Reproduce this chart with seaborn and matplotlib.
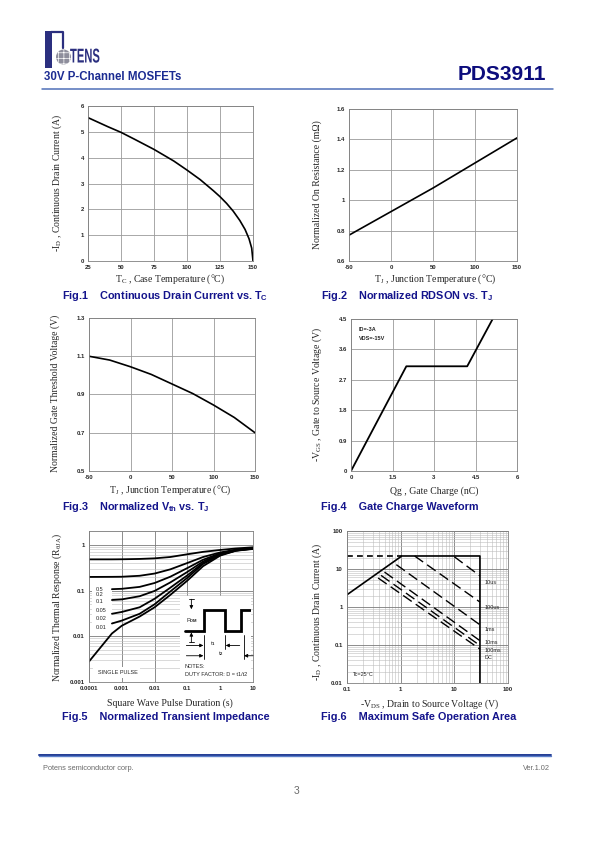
import numpy as np
import pandas as pd
import matplotlib
matplotlib.use("Agg")
import matplotlib.pyplot as plt
import seaborn as sns
from matplotlib.patches import Rectangle, Circle, PathPatch
from matplotlib.ticker import LogLocator, NullFormatter
from matplotlib.textpath import TextPath
from matplotlib.font_manager import FontProperties
from matplotlib.transforms import Affine2D

# ---------------- data ----------------
fig1_tc = [25, 40, 50, 60, 75, 90, 100, 110, 120, 125, 130, 135, 140, 144, 147, 149, 150]
fig1_id = [5.55, 5.2, 4.98, 4.72, 4.32, 3.87, 3.52, 3.15, 2.72, 2.49, 2.23, 1.93, 1.57, 1.22, 0.86, 0.5, 0.0]

fig2_tj = [-50, 0, 50, 100, 150]
fig2_r = [0.77, 0.925, 1.08, 1.245, 1.41]

fig3_tj = [-50, -25, 0, 25, 50, 75, 100, 125, 150]
fig3_v = [1.10, 1.08, 1.045, 1.005, 0.955, 0.905, 0.845, 0.78, 0.70]

fig4_qg = [0, 2.0, 4.2, 5.12]
fig4_vgs = [0, 3.1, 3.1, 4.5]

fig5_t_full = [1e-4, 5e-4, 1e-3, 3.5e-3, 0.01, 0.03, 0.1, 0.3, 1, 3, 10]
fig5_t_part = [5e-4, 1e-3, 3.5e-3, 0.01, 0.03, 0.1, 0.3, 1, 3, 10]
fig5_d05 = [0.48, 0.48, 0.482, 0.49, 0.505, 0.54, 0.62, 0.70, 0.77, 0.83, 0.88]
fig5_d02 = [0.198, 0.199, 0.200, 0.21, 0.235, 0.29, 0.40, 0.54, 0.68, 0.78, 0.86]
fig5_d01 = [0.107, 0.109, 0.12, 0.146, 0.20, 0.31, 0.47, 0.65, 0.77, 0.85]
fig5_d005 = [0.062, 0.064, 0.075, 0.098, 0.15, 0.255, 0.43, 0.63, 0.76, 0.84]
fig5_d002 = [0.031, 0.034, 0.043, 0.066, 0.115, 0.215, 0.40, 0.61, 0.75, 0.83]
fig5_d001 = [0.019, 0.022, 0.031, 0.050, 0.095, 0.19, 0.38, 0.60, 0.745, 0.82]
fig5_single = [0.0028, 0.0115, 0.017, 0.027, 0.043, 0.08, 0.165, 0.34, 0.58, 0.74, 0.81]
fig5_duty_labels = ["0.5", "0.2", "0.1", "0.05", "0.02", "0.01"]
fig5_label_y = [0.105, 0.083, 0.057, 0.036, 0.024, 0.0157]

fig6_limit_v = [0.1, 1.05, 30, 30]
fig6_limit_i = [2.1, 22, 22, 0.01]
fig6_ext_v = [0.1, 1.05]
fig6_ext_i = [22, 22]
fig6_pulse_names = ["10us", "100us", "1ms", "10ms", "100ms", "DC"]
fig6_pulse_v = [[10, 30], [1.82, 30], [0.83, 30], [0.5, 30], [0.43, 30], [0.38, 30]]
fig6_pulse_i = [[21, 6.6], [22, 1.35], [13, 0.34], [8.3, 0.13], [6.8, 0.097], [5.8, 0.078]]
fig6_label_y = [4.5, 0.98, 0.26, 0.118, 0.072, 0.046]

fig1_xticks = [25, 50, 75, 100, 125, 150]
fig1_yticks = [0, 1, 2, 3, 4, 5, 6]
fig2_xticks = [-50, 0, 50, 100, 150]
fig2_yticks = [0.6, 0.8, 1.0, 1.2, 1.4, 1.6]
fig3_xticks = [-50, 0, 50, 100, 150]
fig3_yticks = [0.5, 0.7, 0.9, 1.1, 1.3]
fig4_xticks = [0, 1.5, 3, 4.5, 6]
fig4_yticks = [0, 0.9, 1.8, 2.7, 3.6, 4.5]
fig5_xticks = [1e-4, 1e-3, 1e-2, 1e-1, 1, 10]
fig5_yticks = [1e-3, 1e-2, 1e-1, 1]
fig6_xticks = [0.1, 1, 10, 100]
fig6_yticks = [0.01, 0.1, 1, 10, 100]

# ---------------- style ----------------
sns.set_theme(style="white")
plt.rcParams["font.family"] = ["Liberation Sans", "DejaVu Sans"]
plt.rcParams["mathtext.fontset"] = "custom"
plt.rcParams["mathtext.rm"] = "Liberation Serif"
plt.rcParams["mathtext.it"] = "Liberation Serif:italic"
plt.rcParams["mathtext.bf"] = "Liberation Sans:bold"
plt.rcParams["mathtext.sf"] = "Liberation Sans"
plt.rcParams["hatch.linewidth"] = 0.5

W, H = 595, 842
fig = plt.figure(figsize=(5.95, 8.42), dpi=100)
fig.patch.set_facecolor("white")

bg = fig.add_axes([0, 0, 1, 1])
bg.set_xlim(0, W)
bg.set_ylim(H, 0)
bg.axis("off")

NAVY = "#14148c"
GRID = "#9a9a9a"
TICKFS = 4.3
LABFS = 7.0
SERIF = ["Liberation Serif", "DejaVu Sans"]
CAPFS = 7.8
CAPX_L, CAPX_R = 62, 321


def box(l, t, r, b):
    return [l / W, 1 - b / H, (r - l) / W, (b - t) / H]


def fmt(v):
    return "%g" % v


def style_axes(ax, xt, yt, log=False):
    ax.set_axisbelow(True)
    for s in ax.spines.values():
        s.set_color("#808080")
        s.set_linewidth(0.6)
    ax.set_xticks(xt)
    ax.set_xticklabels([fmt(v) for v in xt], fontsize=TICKFS, fontweight="bold")
    ax.set_yticks(yt)
    ax.set_yticklabels([fmt(v) for v in yt], fontsize=TICKFS, fontweight="bold")
    ax.tick_params(which="both", length=0, pad=3)
    ax.set_xlabel("")
    ax.set_ylabel("")
    if log:
        ax.xaxis.set_minor_locator(LogLocator(base=10, subs=np.arange(2, 10)))
        ax.yaxis.set_minor_locator(LogLocator(base=10, subs=np.arange(2, 10)))
        ax.xaxis.set_minor_formatter(NullFormatter())
        ax.yaxis.set_minor_formatter(NullFormatter())
        ax.grid(True, which="minor", color="#bdbdbd", lw=0.4)
        ax.grid(True, which="major", color="#7a7a7a", lw=0.6)
    else:
        ax.grid(True, which="major", color=GRID, lw=0.6)


def labels(xl, xpos, yl, ypos, cap, cpos):
    bg.text(xpos[0], xpos[1], xl, fontsize=LABFS, family=SERIF, ha="center", va="center")
    bg.text(ypos[0], ypos[1], yl, fontsize=LABFS, family=SERIF, ha="center", va="center", rotation=90)
    bg.text(cpos[0], cpos[1], cap, fontsize=CAPFS, fontweight="bold", color=NAVY, ha="left", va="center")


# ---------------- header / footer ----------------
LOGO = "#2b2f7f"
bg.add_patch(Rectangle((45, 31), 6.5, 37, color=LOGO, lw=0))
bg.plot([51, 63, 63], [32.2, 32.2, 48], color=LOGO, lw=1.6)
bg.add_patch(Circle((63.5, 57), 7.5, facecolor="#8e8e9c", edgecolor="white", hatch="+++", lw=0))
tp = TextPath((0, 0), "TENS", size=20, prop=FontProperties(family="Liberation Sans", weight="bold"))
tp = Affine2D().scale(0.56, -1.0).translate(70, 62.5).transform_path(tp)
bg.add_patch(PathPatch(tp, facecolor=LOGO, edgecolor="none"))
bg.text(44, 80, "30V P-Channel MOSFETs", fontsize=8.3, fontweight="bold", color="#1c2c92",
        ha="left", va="baseline")
bg.text(546, 80, "PDS3911", fontsize=15, fontweight="bold", color="#0c0c7c",
        ha="right", va="baseline")
bg.plot([42, 553], [89, 89], color="#5070b8", lw=1.1)

bg.plot([39, 551], [754.5, 754.5], color="#1f3a93", lw=1.4)
bg.plot([39, 551], [756, 756], color="#5b7fc9", lw=1.0)
bg.text(43, 769, "Potens semiconductor corp.", fontsize=5.3, color="#6a6a6a", ha="left", va="center")
bg.text(550, 769, "Ver.1.02", fontsize=5.3, color="#6a6a6a", ha="right", va="center")
bg.text(297, 791, "3", fontsize=7.5, color="#6a6a6a", ha="center", va="center")

# ---------------- Fig.1 ----------------
ax1 = fig.add_axes(box(88, 106, 253, 261))
df1 = pd.DataFrame({"Tc": fig1_tc, "Id": fig1_id})
sns.lineplot(data=df1, x="Tc", y="Id", ax=ax1, color="black", lw=1.2, sort=False, estimator=None)
ax1.set_xlim(25, 150)
ax1.set_ylim(0, 6)
style_axes(ax1, fig1_xticks, fig1_yticks)
labels(r"T$_{\mathrm{C}}$ , Case Temperature (°C)", (170, 279),
       r"-I$_{\mathrm{D}}$ , Continuous Drain Current (A)", (57, 183),
       r"Fig.1    Continuous Drain Current vs. T$_{\mathbf{C}}$", (CAPX_L, 296))

# ---------------- Fig.2 ----------------
ax2 = fig.add_axes(box(349, 109, 517, 261))
df2 = pd.DataFrame({"Tj": fig2_tj, "R": fig2_r})
sns.lineplot(data=df2, x="Tj", y="R", ax=ax2, color="black", lw=1.2, sort=False, estimator=None)
ax2.set_xlim(-50, 150)
ax2.set_ylim(0.6, 1.6)
style_axes(ax2, fig2_xticks, fig2_yticks)
labels(r"T$_{\mathrm{J}}$ , Junction Temperature (°C)", (435, 279),
       r"Normalized On Resistance (mΩ)", (317, 185),
       r"Fig.2    Normalized RDSON vs. T$_{\mathbf{J}}$", (CAPX_R, 296))

# ---------------- Fig.3 ----------------
ax3 = fig.add_axes(box(89, 318, 255, 471))
df3 = pd.DataFrame({"Tj": fig3_tj, "V": fig3_v})
sns.lineplot(data=df3, x="Tj", y="V", ax=ax3, color="black", lw=1.2, sort=False, estimator=None)
ax3.set_xlim(-50, 150)
ax3.set_ylim(0.5, 1.3)
style_axes(ax3, fig3_xticks, fig3_yticks)
labels(r"T$_{\mathrm{J}}$ , Junction Temperature (°C)", (170, 490),
       r"Normalized Gate Threshold Voltage (V)", (55, 393),
       r"Fig.3    Normalized V$_{\mathbf{th}}$ vs. T$_{\mathbf{J}}$", (CAPX_L, 507))

# ---------------- Fig.4 ----------------
ax4 = fig.add_axes(box(351, 319, 517, 471))
df4 = pd.DataFrame({"Qg": fig4_qg, "Vgs": fig4_vgs})
sns.lineplot(data=df4, x="Qg", y="Vgs", ax=ax4, color="black", lw=1.3, sort=False, estimator=None)
ax4.set_xlim(0, 6)
ax4.set_ylim(0, 4.5)
style_axes(ax4, fig4_xticks, fig4_yticks)
ax4.text(0.27, 4.18, "ID=-3A", fontsize=4.0, fontweight="bold", va="center")
ax4.text(0.27, 3.93, "VDS=-15V", fontsize=4.0, fontweight="bold", va="center")
labels(r"Qg , Gate Charge (nC)", (434, 491),
       r"-V$_{\mathrm{GS}}$ , Gate to Source Voltage (V)", (317, 394),
       r"Fig.4    Gate Charge Waveform", (CAPX_R, 507))

# ---------------- Fig.5 ----------------
ax5 = fig.add_axes(box(89, 531, 253, 682))
ax5.set_xscale("log")
ax5.set_yscale("log")
curves5 = [
    (fig5_t_full, fig5_d05, "0.5"),
    (fig5_t_full, fig5_d02, "0.2"),
    (fig5_t_part, fig5_d01, "0.1"),
    (fig5_t_part, fig5_d005, "0.05"),
    (fig5_t_part, fig5_d002, "0.02"),
    (fig5_t_part, fig5_d001, "0.01"),
    (fig5_t_full, fig5_single, "single"),
]
df5 = pd.concat([pd.DataFrame({"t": t, "r": r, "D": name}) for t, r, name in curves5], ignore_index=True)
sns.lineplot(data=df5, x="t", y="r", hue="D", palette=["black"] * len(curves5), ax=ax5,
             lw=1.3, sort=False, estimator=None, legend=False)
ax5.set_xlim(1e-4, 10)
ax5.set_ylim(1e-3, 2)
style_axes(ax5, fig5_xticks, fig5_yticks, log=True)
ax5.add_patch(Rectangle((0.02, 0.33), 0.12, 0.31, transform=ax5.transAxes,
                        facecolor="white", edgecolor="none", zorder=1.5))
for lab, yv in zip(fig5_duty_labels, fig5_label_y):
    ax5.text(1.6e-4, yv, lab, fontsize=4.0, va="center", ha="left", zorder=3)
ax5.add_patch(Rectangle((0.024, 0.026), 0.29, 0.075, transform=ax5.transAxes,
                        facecolor="white", edgecolor="none", zorder=1.5))
ax5.text(0.055, 0.063, "SINGLE PULSE", transform=ax5.transAxes, fontsize=4.0, va="center", zorder=3)

ins = ax5.inset_axes([0.553, 0.0, 0.433, 0.57])
ins.set_facecolor("white")
ins.set_xlim(420, 633)
ins.set_ylim(487, 228)
ins.set_xticks([])
ins.set_yticks([])
for s in ins.spines.values():
    s.set_visible(False)
ins.plot([435, 492, 492, 557, 557, 605, 605, 630], [335, 335, 270, 270, 335, 335, 270, 270],
         color="black", lw=2.0, solid_joinstyle="miter")
arrow = dict(arrowstyle="-|>", lw=0.6, color="black", mutation_scale=5, shrinkA=0, shrinkB=0)
ins.plot([449, 462], [238, 238], color="black", lw=0.6)
ins.annotate("", xy=(455, 268), xytext=(455, 238), arrowprops=arrow)
ins.annotate("", xy=(455, 338), xytext=(455, 368), arrowprops=arrow)
ins.plot([449, 462], [368, 368], color="black", lw=0.6)
ins.text(440, 303, r"P$_{\mathbf{DM}}$", fontsize=4.2, va="center")
ins.plot([492, 492], [345, 418], color="black", lw=0.6)
ins.plot([557, 557], [345, 388], color="black", lw=0.6)
ins.plot([612, 612], [345, 418], color="black", lw=0.6)
ins.annotate("", xy=(491, 377), xytext=(440, 377), arrowprops=arrow)
ins.annotate("", xy=(558, 377), xytext=(600, 377), arrowprops=arrow)
ins.text(520, 372, r"t$_{\mathbf{1}}$", fontsize=4.2, ha="center", va="center")
ins.annotate("", xy=(491, 408), xytext=(440, 408), arrowprops=arrow)
ins.annotate("", xy=(613, 408), xytext=(640, 408), arrowprops=arrow)
ins.text(545, 402, r"t$_{\mathbf{2}}$", fontsize=4.2, ha="center", va="center")
ins.text(435, 440, "NOTES:", fontsize=4.0, va="center")
ins.text(435, 463, "DUTY FACTOR: D = t1/t2", fontsize=4.0, va="center")

labels(r"Square Wave Pulse Duration (s)", (170, 703),
       r"Normalized Thermal Response (R$_{\mathrm{θJA}}$)", (57, 607),
       r"Fig.5    Normalized Transient Impedance", (CAPX_L, 717))

# ---------------- Fig.6 ----------------
ax6 = fig.add_axes(box(347, 531, 508, 683))
ax6.set_xscale("log")
ax6.set_yscale("log")
sns.lineplot(x=fig6_limit_v, y=fig6_limit_i, ax=ax6, color="black", lw=1.2, sort=False, estimator=None)
sns.lineplot(x=fig6_ext_v, y=fig6_ext_i, ax=ax6, color="black", lw=1.2, sort=False, estimator=None,
             linestyle=(0, (3.5, 2.5)))
for v, i in zip(fig6_pulse_v, fig6_pulse_i):
    sns.lineplot(x=v, y=i, ax=ax6, color="black", lw=1.0, sort=False, estimator=None,
                 linestyle=(0, (7.5, 3.5)))
for name, yv in zip(fig6_pulse_names, fig6_label_y):
    ax6.text(36, yv, name, fontsize=4.0, va="center", ha="left")
ax6.text(0.13, 0.017, "Tc=25°C", fontsize=4.0, va="center", ha="left")
ax6.set_xlim(0.1, 100)
ax6.set_ylim(0.01, 100)
style_axes(ax6, fig6_xticks, fig6_yticks, log=True)
labels(r"-V$_{\mathrm{DS}}$ , Drain to Source Voltage (V)", (430, 704),
       r"-I$_{\mathrm{D}}$ , Continuous Drain Current (A)", (317, 612),
       r"Fig.6    Maximum Safe Operation Area", (CAPX_R, 717))

fig.savefig("out.png", dpi=100, facecolor="white")
